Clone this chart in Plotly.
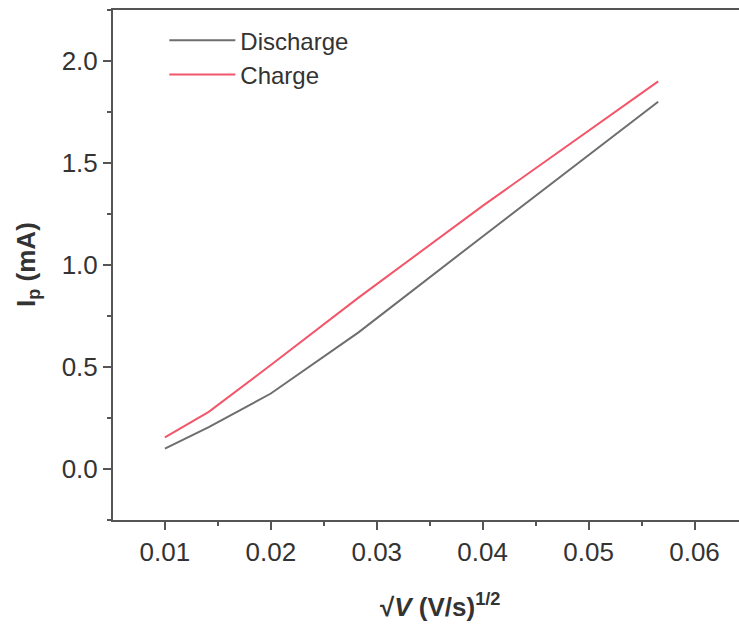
import plotly.graph_objects as go

# sqrt of scan rate (V/s)^1/2
sqrt_v = [0.01, 0.01414, 0.02, 0.02828, 0.04, 0.05657]
discharge = [0.10, 0.205, 0.37, 0.67, 1.14, 1.80]
charge = [0.155, 0.28, 0.51, 0.84, 1.29, 1.90]

x_ticks = [0.01, 0.02, 0.03, 0.04, 0.05, 0.06]
y_ticks = [0.0, 0.5, 1.0, 1.5, 2.0]

FONT = "Liberation Sans, Arial, sans-serif"
AXC = "#555555"

fig = go.Figure()
fig.add_trace(go.Scatter(x=sqrt_v, y=discharge, mode="lines", name="Discharge",
                         line=dict(color="#6e6e6e", width=2)))
fig.add_trace(go.Scatter(x=sqrt_v, y=charge, mode="lines", name="Charge",
                         line=dict(color="#f2566a", width=2)))

fig.update_layout(
    width=739, height=625,
    margin=dict(l=113, r=0, t=10, b=105),
    paper_bgcolor="white", plot_bgcolor="white",
    font=dict(family=FONT, color="#333333"),
    showlegend=True,
    legend=dict(x=0.082, y=0.984, xanchor="left", yanchor="top",
                bgcolor="rgba(0,0,0,0)", font=dict(size=24, color="#333333"),
                tracegroupgap=0, itemwidth=66),
    xaxis=dict(range=[0.0051, 0.0642], tickvals=x_ticks,
               ticktext=[f"{v:.2f}" for v in x_ticks],
               showgrid=False, zeroline=False,
               showline=True, linecolor=AXC, linewidth=2, mirror=True,
               ticks="outside", ticklen=8, tickwidth=1.5, tickcolor=AXC,
               tickfont=dict(size=26, color="#333333"),
               minor=dict(dtick=0.005, tick0=0, ticks="outside", ticklen=4,
                          tickwidth=1.5, tickcolor=AXC, showgrid=False)),
    yaxis=dict(range=[-0.25, 2.25], tickvals=y_ticks,
               ticktext=[f"{v:.1f}" for v in y_ticks],
               showgrid=False, zeroline=False,
               showline=True, linecolor=AXC, linewidth=2, mirror=False,
               ticks="outside", ticklen=8, tickwidth=1.5, tickcolor=AXC,
               tickfont=dict(size=26, color="#333333"),
               minor=dict(dtick=0.25, tick0=0, ticks="outside", ticklen=4,
                          tickwidth=1.5, tickcolor=AXC, showgrid=False)),
    annotations=[
        dict(text="<b>√<i>V</i> (V/s)<sup>1/2</sup></b>", xref="paper", yref="paper",
             x=(440 - 113) / 626, y=-85 / 510, xanchor="center", yanchor="middle",
             showarrow=False, font=dict(size=26, color="#333333")),
        dict(text="<b>I<sub>p</sub> (mA)</b>", xref="paper", yref="paper",
             x=-86 / 626, y=0.5, xanchor="center", yanchor="middle", textangle=-90,
             showarrow=False, font=dict(size=26, color="#333333")),
    ],
)

fig.write_html("out.html")
